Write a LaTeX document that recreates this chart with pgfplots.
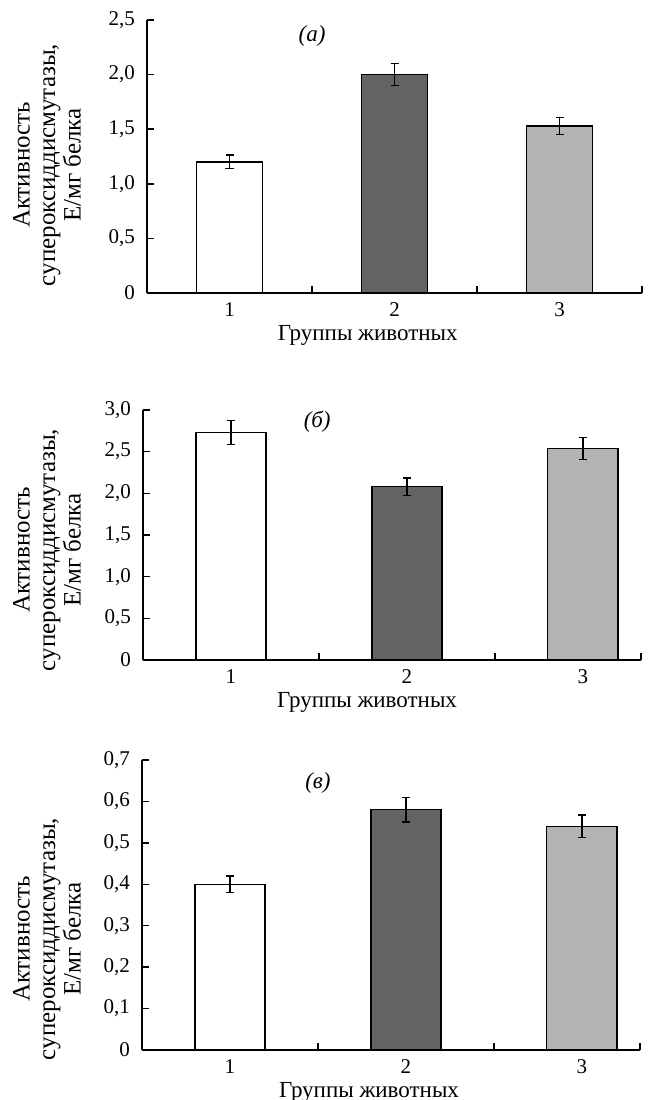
\documentclass[border=0pt]{standalone}
\usepackage{fontspec}
\setmainfont{Liberation Serif}
\usepackage{pgfplots}
\pgfplotsset{compat=1.18}
\definecolor{darkbar}{HTML}{636363}
\definecolor{lightbar}{HTML}{B3B3B3}
\newcommand\tickfont{\fontsize{21bp}{24bp}\selectfont}
\newcommand\labfont{\fontsize{23bp}{24bp}\selectfont}
\newcommand\ylabfont{\fontsize{25bp}{25.5bp}\selectfont}
\pgfplotsset{
  panel/.style={
    scale only axis,
    axis x line*=bottom, axis y line*=left,
    axis line style={line width=1.5bp,-},
    clip=false,
    xmin=0.5, ymin=0,
    tick align=inside,
    tick style={line width=1.5bp, black},
    major tick length=7bp,
    xticklabels={},
    extra x ticks={1,2,3},
    extra x tick labels={1,2,3},
    extra x tick style={major tick length=0pt},
    tick label style={font=\tickfont},
    yticklabel style={xshift=-5bp},
    xticklabel style={yshift=-2bp},
    xlabel={Группы животных},
    ylabel={Активность\\супероксиддисмутазы,\\Е/мг белка},
    ylabel style={align=center, anchor=center, font=\ylabfont},
    xlabel style={font=\labfont},
  },
  barstyle/.style={ybar, bar width=0.4, bar shift=0pt, draw=black, line width=1.5bp,
    error bars/y dir=both, error bars/y explicit,
    error bars/error bar style={line width=1.3bp, black},
    error bars/error mark options={rotate=90, mark size=4bp, line width=1.3bp, black}},
}
\begin{document}
\tickfont
\begin{tikzpicture}
\useasboundingbox (0,0) rectangle (649bp,1100bp);
% panel a
\begin{axis}[panel, at={(147bp,807bp)}, anchor=south west,
  width=495bp, height=273bp, xmax=3.5, ymax=2.5,
  xtick={1.5,2.5,3.5},
  ytick={0,0.5,1,1.5,2,2.5},
  yticklabels={0,{0,5},{1,0},{1,5},{2,0},{2,5}},
  xlabel style={at={(axis description cs:0.446,0)}, anchor=center, yshift=-42bp},
  ylabel style={at={(axis description cs:-0.202,0.469)}},
  ]
\addplot[barstyle, fill=white] coordinates {(1,1.2) +- (0,0.063)};
\addplot[barstyle, fill=darkbar] coordinates {(2,2.0) +- (0,0.1)};
\addplot[barstyle, fill=lightbar] coordinates {(3,1.53) +- (0,0.08)};
\node[font=\labfont\itshape] at (axis cs:1.5,2.35) {(а)};
\end{axis}
% panel b
\begin{axis}[panel, at={(143bp,440bp)}, anchor=south west,
  width=498bp, height=250bp, xmax=3.33, ymax=3.0,
  xtick={1.5,2.5,3.33},
  ytick={0,0.5,1,1.5,2,2.5,3},
  yticklabels={0,{0,5},{1,0},{1,5},{2,0},{2,5},{3,0}},
  xlabel style={at={(axis description cs:0.45,0)}, anchor=center, yshift=-42bp},
  ylabel style={at={(axis description cs:-0.193,0.44)}},
  ]
\addplot[barstyle, fill=white] coordinates {(1,2.73) +- (0,0.14)};
\addplot[barstyle, fill=darkbar] coordinates {(2,2.08) +- (0,0.105)};
\addplot[barstyle, fill=lightbar] coordinates {(3,2.54) +- (0,0.13)};
\node[font=\labfont\itshape] at (axis cs:1.49,2.86) {(б)};
\end{axis}
% panel c
\begin{axis}[panel, at={(142bp,50bp)}, anchor=south west,
  width=498bp, height=290bp, xmax=3.33, ymax=0.7,
  xtick={1.5,2.5,3.33},
  ytick={0,0.1,0.2,0.3,0.4,0.5,0.6,0.7},
  yticklabels={0,{0,1},{0,2},{0,3},{0,4},{0,5},{0,6},{0,7}},
  xlabel style={at={(axis description cs:0.456,0)}, anchor=center, yshift=-42bp},
  ylabel style={at={(axis description cs:-0.191,0.383)}},
  ]
\addplot[barstyle, fill=white] coordinates {(1,0.40) +- (0,0.02)};
\addplot[barstyle, fill=darkbar] coordinates {(2,0.58) +- (0,0.03)};
\addplot[barstyle, fill=lightbar] coordinates {(3,0.54) +- (0,0.027)};
\node[font=\labfont\itshape] at (axis cs:1.5,0.644) {(в)};
\end{axis}
\end{tikzpicture}
\end{document}
